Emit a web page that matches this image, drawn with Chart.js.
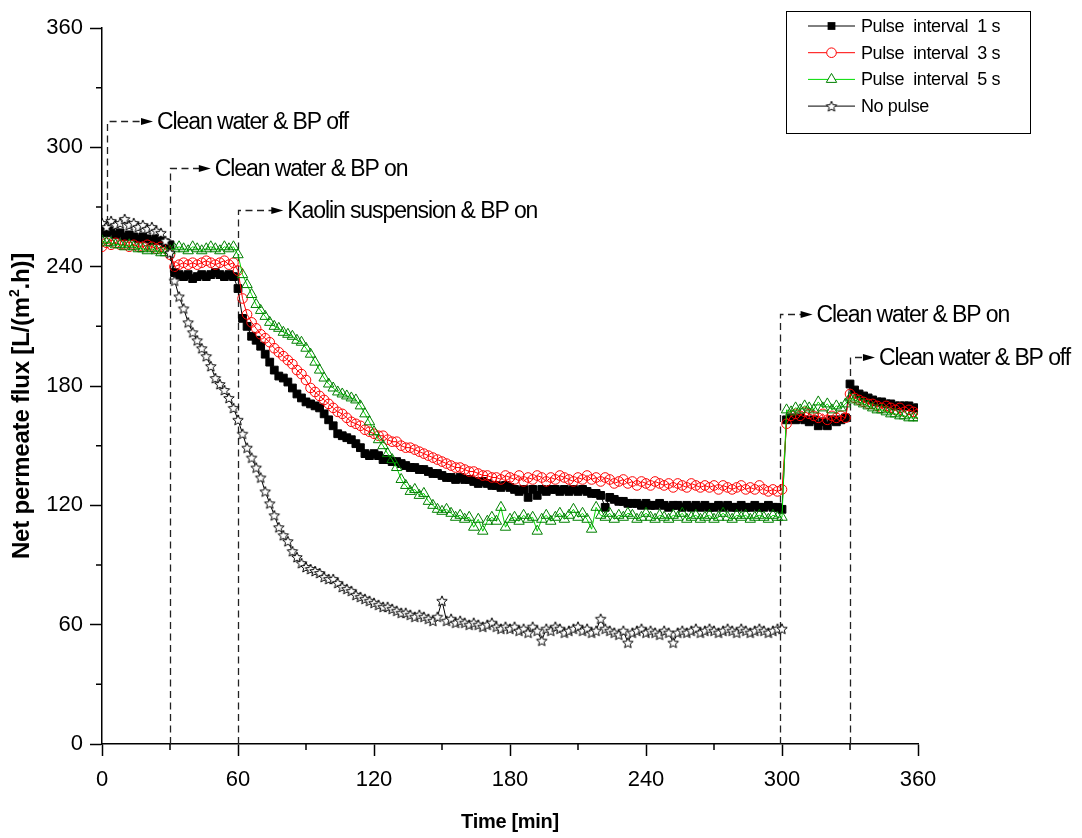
<!DOCTYPE html>
<html>
<head>
<meta charset="utf-8">
<script src="https://cdn.jsdelivr.net/npm/chart.js@4.4.1/dist/chart.umd.min.js"></script>
<style>
  html, body { margin: 0; padding: 0; background: #fff; }
  #wrap { width: 1082px; height: 838px; }
</style>
</head>
<body>
<div id="wrap"><canvas id="fluxChart" width="1082" height="838"></canvas></div>
<script>
// time in minutes (sampling every 2 min)
const time = [
  0, 2, 4, 6, 8, 10, 12, 14, 16, 18, 20, 22, 24, 26, 28,
  30, 32, 34, 36, 38, 40, 42, 44, 46, 48, 50, 52, 54, 56, 58,
  60, 62, 64, 66, 68, 70, 72, 74, 76, 78, 80, 82, 84, 86, 88,
  90, 92, 94, 96, 98, 100, 102, 104, 106, 108, 110, 112, 114, 116, 118,
  120, 122, 124, 126, 128, 130, 132, 134, 136, 138, 140, 142, 144, 146, 148,
  150, 152, 154, 156, 158, 160, 162, 164, 166, 168, 170, 172, 174, 176, 178,
  180, 182, 184, 186, 188, 190, 192, 194, 196, 198, 200, 202, 204, 206, 208,
  210, 212, 214, 216, 218, 220, 222, 224, 226, 228, 230, 232, 234, 236, 238,
  240, 242, 244, 246, 248, 250, 252, 254, 256, 258, 260, 262, 264, 266, 268,
  270, 272, 274, 276, 278, 280, 282, 284, 286, 288, 290, 292, 294, 296, 298,
  300, 302, 304, 306, 308, 310, 312, 314, 316, 318, 320, 322, 324, 326, 328,
  330, 332, 334, 336, 338, 340, 342, 344, 346, 348, 350, 352, 354, 356, 358,
  360
];

// net permeate flux, L/(m2.h)
const pulse1s = [
  258, 257, 258, 256, 257, 255, 256, 255, 254, 255, 254, 253, 254, 253, 252,
  251, 237, 236, 235, 236, 234, 235, 236, 235, 236, 237, 236, 235, 236, 235,
  229, 214, 210, 205, 203, 200, 196, 192, 188, 185, 184, 182, 179, 176, 174,
  172, 171, 170, 169, 166, 163, 160, 156, 155, 154, 153, 151, 149, 146, 145,
  146, 145, 143, 143, 142, 142, 141, 140, 139, 139, 138, 138, 137, 136, 136,
  135, 134, 134, 133, 134, 133, 133, 132, 131, 132, 131, 130, 130, 129, 130,
  129, 128, 127, 128, 124, 128, 125, 128, 127, 128, 128, 127, 128, 127, 128,
  127, 128, 127, 126, 126, 125, 119, 124, 123, 122, 122, 121, 121, 121, 120,
  121, 120, 120, 121, 120, 119, 120, 120, 119, 120, 119, 120, 119, 120, 119,
  119, 120, 119, 120, 119, 119, 120, 119, 119, 120, 119, 119, 120, 119, 119,
  118, 163, 164, 163, 164, 163, 162, 163, 160, 162, 160, 163, 162, 163, 164,
  181, 178, 176, 175, 174, 173, 172, 172, 171, 171, 170, 170, 170, 170, 169,
  169
];

const pulse3s = [
  250, 252, 251, 252, 251, 251, 250, 251, 250, 250, 251, 250, 249, 250, 249,
  246, 240, 241, 242, 241, 242, 241, 242, 243, 242, 241, 242, 243, 241, 242,
  238, 224, 216, 212, 209, 206, 204, 202, 199, 197, 195, 193, 191, 188, 186,
  183, 179, 177, 175, 173, 171, 169, 167, 166, 164, 162, 161, 160, 158, 157,
  156, 155, 155, 153, 152, 152, 150, 149, 149, 148, 147, 146, 145, 144, 143,
  142, 141, 140, 139, 139, 138, 137, 137, 136, 135, 135, 134, 134, 133, 135,
  134, 133, 135, 132, 134, 133, 135, 134, 132, 134, 133, 135, 134, 133, 132,
  134, 133, 135, 133, 134, 132, 134, 133, 131, 132, 133, 131, 132, 130, 132,
  131, 130, 132, 131, 130, 131, 129, 131, 130, 129, 131, 130, 129, 130, 129,
  130, 128, 130, 129, 128, 129, 130, 128, 129, 128, 130, 128, 127, 128, 127,
  128, 161, 165, 166, 165, 167, 166, 165, 164, 166, 163, 165, 164, 165, 164,
  176, 174, 173, 172, 171, 171, 170, 169, 170, 169, 168, 169, 167, 168, 167,
  166
];

const pulse5s = [
  253, 252, 252, 251, 251, 250, 251, 250, 249, 249, 248, 249, 248, 247, 247,
  248, 249, 250, 249, 248, 250, 249, 248, 249, 250, 249, 248, 250, 249, 250,
  246, 236, 231, 226, 221, 218, 215, 212, 210, 209, 207, 206, 205, 203, 202,
  199, 196, 192, 188, 184, 181, 179, 177, 176, 175, 174, 173, 170, 166, 162,
  157, 153, 150, 146, 143, 139, 133, 130, 127, 128, 125, 126, 122, 120, 118,
  117, 118, 116, 114, 115, 113, 114, 109, 113, 107, 112, 114, 112, 119, 109,
  113, 114, 112, 115, 113, 114, 107, 113, 115, 112, 114, 116, 113, 115, 118,
  114, 116, 113, 108, 119, 115, 114, 116, 113, 115, 114, 116, 115, 113, 114,
  116, 114, 113, 115, 114, 113, 115, 114, 116, 113, 114, 115, 113, 114, 115,
  113, 114, 116, 114, 113, 115, 114, 115, 113, 114, 115, 114, 113, 115, 114,
  114, 168, 167, 169, 168, 170, 169, 168, 172, 169, 171, 168, 170, 169, 171,
  174, 173, 172, 171, 170, 169, 168, 168, 167, 166, 166, 165, 165, 164, 164,
  164
];

// no pulse run stops at 300 min
const noPulse = [
  262, 260, 263, 261, 262, 264, 261, 262, 260, 261, 259, 260, 258, 257, 253,
  247, 233, 225, 219, 212, 207, 203, 199, 195, 190, 184, 181, 178, 174, 169,
  163, 156, 149, 144, 139, 134, 127, 121, 115, 109, 105, 102, 97, 94, 91,
  89, 88, 87, 86, 84, 83, 83, 81, 79, 78, 77, 75, 74, 73, 72,
  71, 70, 69, 69, 68, 67, 66, 66, 65, 64, 65, 64, 63, 62, 64,
  72, 62, 63, 61, 62, 61, 60, 61, 60, 59, 60, 61, 59, 58, 59,
  58, 59, 57, 58, 56, 59, 57, 52, 58, 57, 59, 58, 56, 57, 58,
  59, 57, 58, 56, 57, 63, 58, 57, 56, 55, 57, 51, 56, 57, 58,
  56, 57, 56, 55, 57, 56, 51, 56, 57, 56, 57, 58, 56, 57, 58,
  57, 56, 57, 58, 57, 56, 58, 57, 56, 57, 58, 57, 56, 57, 58,
  58
];

const seriesLabels = ['Pulse  interval  1 s', 'Pulse  interval  3 s', 'Pulse  interval  5 s', 'No pulse'];
const minorTicks = [30, 90, 150, 210, 270, 330];

// operating stages marked on the plot (x = time, top = flux level of the leader line)
const stages = [
  { x: 2, top: 313, bottom: 262, tip: 22.5, text: 'Clean water & BP off' },
  { x: 30, top: 289.5, bottom: 0, tip: 48, text: 'Clean water & BP on' },
  { x: 60, top: 268.5, bottom: 0, tip: 80, text: 'Kaolin suspension & BP on' },
  { x: 299, top: 216, bottom: 0, tip: 313.5, text: 'Clean water & BP on' },
  { x: 330, top: 194.5, bottom: 0, tip: 341, text: 'Clean water & BP off' }
];

const FONT = '"Liberation Sans", Arial, sans-serif';

// open five-point star marker
function makeStar(r) {
  const c = document.createElement('canvas');
  const s = Math.ceil(r * 2 + 3);
  c.width = s; c.height = s;
  const g = c.getContext('2d');
  g.beginPath();
  for (let k = 0; k < 10; k++) {
    const rad = k % 2 ? r * 0.45 : r;
    const a = -Math.PI / 2 + k * Math.PI / 5;
    g.lineTo(s / 2 + rad * Math.cos(a), s / 2 + 0.6 + rad * Math.sin(a));
  }
  g.closePath();
  g.fillStyle = '#fff';
  g.fill();
  g.strokeStyle = '#000';
  g.lineWidth = 1;
  g.stroke();
  return c;
}
const starImg = makeStar(5.5);

const pts = (vals) => vals.map((v, i) => ({ x: time[i], y: v }));

const datasets = [
  {
    label: seriesLabels[0], data: pts(pulse1s), order: 4,
    borderColor: '#000', borderWidth: 1,
    pointStyle: 'rect', pointRadius: 5.5, pointBackgroundColor: '#000', pointBorderColor: '#000', pointBorderWidth: 1
  },
  {
    label: seriesLabels[1], data: pts(pulse3s), order: 3,
    borderColor: '#ff0000', borderWidth: 1,
    pointStyle: 'circle', pointRadius: 4.8, pointBackgroundColor: 'rgba(255,255,255,0)', pointBorderColor: '#ff0000', pointBorderWidth: 1
  },
  {
    label: seriesLabels[2], data: pts(pulse5s), order: 2,
    borderColor: '#00dd00', borderWidth: 1,
    pointStyle: 'triangle', pointRadius: 6, pointBackgroundColor: 'rgba(255,255,255,0)', pointBorderColor: '#008000', pointBorderWidth: 1
  },
  {
    label: seriesLabels[3], data: pts(noPulse), order: 1,
    borderColor: '#000', borderWidth: 1,
    pointStyle: starImg, pointRadius: 5.5, pointBorderColor: '#000'
  }
];

function drawMarker(ctx, ds, x, y) {
  ctx.save();
  ctx.lineWidth = 1;
  ctx.strokeStyle = ds.pointBorderColor;
  ctx.fillStyle = ds.pointBackgroundColor || '#fff';
  const r = ds.pointRadius;
  if (ds.pointStyle === 'rect') {
    const h = r * Math.SQRT1_2;
    ctx.fillRect(x - h, y - h, 2 * h, 2 * h);
  } else if (ds.pointStyle === 'circle') {
    ctx.fillStyle = '#fff';
    ctx.beginPath(); ctx.arc(x, y, r, 0, Math.PI * 2); ctx.fill(); ctx.stroke();
  } else if (ds.pointStyle === 'triangle') {
    ctx.fillStyle = '#fff';
    ctx.beginPath();
    for (let k = 0; k < 3; k++) {
      const a = k * 2 * Math.PI / 3;
      ctx.lineTo(x + Math.sin(a) * r, y - Math.cos(a) * r);
    }
    ctx.closePath(); ctx.fill(); ctx.stroke();
  } else {
    ctx.drawImage(ds.pointStyle, x - ds.pointStyle.width / 2, y - ds.pointStyle.height / 2);
  }
  ctx.restore();
}

const decorations = {
  id: 'decorations',
  beforeDatasetsDraw(chart) {
    const { ctx, scales: { x, y } } = chart;
    ctx.save();
    ctx.strokeStyle = '#222';
    ctx.lineWidth = 1.3;
    ctx.setLineDash([7, 4.5]);
    stages.forEach(s => {
      const px = Math.round(x.getPixelForValue(s.x)) + 0.5;
      const top = Math.round(y.getPixelForValue(s.top)) + 0.5;
      const bot = y.getPixelForValue(s.bottom);
      const tipX = x.getPixelForValue(s.tip);
      ctx.beginPath();
      ctx.moveTo(px, bot);
      ctx.lineTo(px, top);
      ctx.lineTo(tipX - 11, top);
      ctx.stroke();
    });
    ctx.restore();
  },
  afterDatasetsDraw(chart) {
    const { ctx, scales: { x, y } } = chart;
    ctx.save();
    ctx.fillStyle = '#000';
    ctx.font = '23px ' + FONT;
    ctx.letterSpacing = '-1.1px';
    ctx.textBaseline = 'middle';
    stages.forEach(s => {
      const top = Math.round(y.getPixelForValue(s.top)) + 0.5;
      const tipX = x.getPixelForValue(s.tip);
      ctx.beginPath();
      ctx.moveTo(tipX, top);
      ctx.lineTo(tipX - 12, top - 3.5);
      ctx.lineTo(tipX - 12, top + 3.5);
      ctx.closePath();
      ctx.fill();
      ctx.fillText(s.text, tipX + 4, top + 1);
    });
    ctx.restore();
  },
  afterDraw(chart) {
    const { ctx, chartArea: area } = chart;
    const x = chart.scales.x, y = chart.scales.y;
    ctx.save();
    // minor ticks
    ctx.strokeStyle = '#000';
    ctx.lineWidth = 1.5;
    ctx.beginPath();
    minorTicks.forEach(v => {
      const px = x.getPixelForValue(v);
      ctx.moveTo(px, area.bottom); ctx.lineTo(px, area.bottom + 6);
      const py = y.getPixelForValue(v);
      ctx.moveTo(area.left - 6, py); ctx.lineTo(area.left, py);
    });
    ctx.stroke();

    // axis titles
    ctx.fillStyle = '#000';
    ctx.font = 'bold 20px ' + FONT;
    ctx.letterSpacing = '-0.3px';
    ctx.textAlign = 'center';
    ctx.textBaseline = 'middle';
    ctx.fillText('Time [min]', (area.left + area.right) / 2, 822);

    ctx.save();
    ctx.translate(22, 406);
    ctx.rotate(-Math.PI / 2);
    ctx.textAlign = 'left';
    ctx.letterSpacing = '-0.2px';
    const big = 'bold 24px ' + FONT, small = 'bold 14px ' + FONT;
    const p1 = 'Net permeate flux [L/(m', p2 = '.h)]';
    ctx.font = big;
    const w1 = ctx.measureText(p1).width;
    const w2 = ctx.measureText(p2).width;
    ctx.font = small;
    const wSup = ctx.measureText('2').width;
    const start = -(w1 + wSup + w2) / 2;
    ctx.font = big;
    ctx.fillText(p1, start, 0);
    ctx.fillText(p2, start + w1 + wSup, 0);
    ctx.font = small;
    ctx.fillText('2', start + w1, -7);
    ctx.restore();

    // legend box
    ctx.letterSpacing = '-0.4px';
    ctx.lineWidth = 1;
    ctx.setLineDash([]);
    ctx.strokeStyle = '#000';
    ctx.strokeRect(786.5, 11.5, 244, 122);
    ctx.font = '18px ' + FONT;
    ctx.textAlign = 'left';
    chart.data.datasets.forEach((ds, i) => {
      const ly = 26 + i * 26.7;
      ctx.strokeStyle = ds.borderColor;
      ctx.lineWidth = 1;
      ctx.beginPath();
      ctx.moveTo(808, ly); ctx.lineTo(855, ly);
      ctx.stroke();
      drawMarker(ctx, ds, 831.5, ly);
      ctx.fillStyle = '#000';
      ctx.fillText(ds.label, 861, ly + 1);
    });
    ctx.restore();
  }
};

const axisCommon = {
  type: 'linear',
  min: 0,
  max: 360,
  border: { display: true, color: '#000', width: 1.5 },
  grid: { drawOnChartArea: false, drawTicks: true, tickLength: 12, tickColor: '#000', tickWidth: 1.5 },
  title: { display: false }
};

new Chart(document.getElementById('fluxChart'), {
  type: 'line',
  data: { datasets },
  options: {
    responsive: false,
    animation: false,
    devicePixelRatio: 1,
    layout: { padding: { top: 28, right: 164, left: 0, bottom: 0 } },
    plugins: { legend: { display: false }, tooltip: { enabled: false } },
    scales: {
      x: {
        ...axisCommon,
        ticks: { stepSize: 60, color: '#000', padding: 11, maxRotation: 0, font: { family: FONT, size: 22 } },
        afterFit: s => { s.height = 94; }
      },
      y: {
        ...axisCommon,
        ticks: { stepSize: 60, color: '#000', padding: 7, font: { family: FONT, size: 22 } },
        afterFit: s => { s.width = 102; }
      }
    }
  },
  plugins: [decorations]
});
</script>
</body>
</html>
